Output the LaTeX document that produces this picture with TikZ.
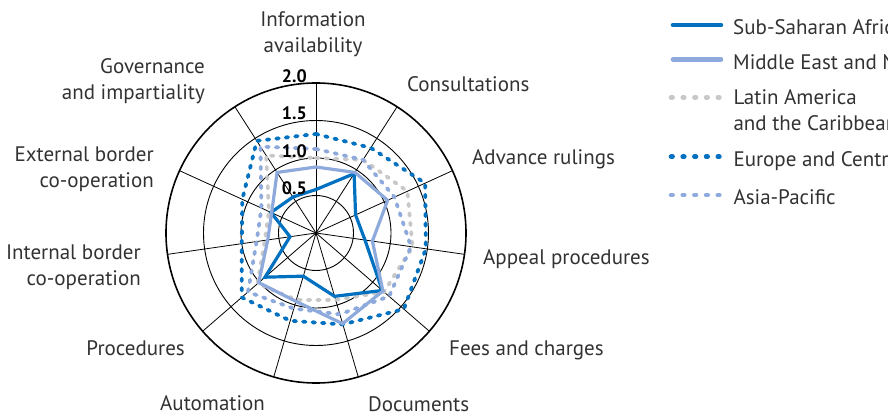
\documentclass[tikz,border=0pt]{standalone}
\usepackage{fontspec}
\setmainfont{PT Sans}
\usepackage{xcolor}
\usepackage{tikz}
\usetikzlibrary{calc}
\usetikzlibrary{positioning}

\definecolor{ssablue}{RGB}{0,112,192}
\definecolor{menablue}{RGB}{142,169,219}
\definecolor{lacgrey}{RGB}{200,200,200}
\definecolor{labelgrey}{RGB}{50,50,50}

\newcommand{\rr}{75}
\newcommand{\radarline}[3]{\draw[#1] (90:#2*\rr) \foreach \v [count=\i] in {#3} { -- ({90-\i*360/11}:\v*\rr) } -- cycle;}

\tikzset{
	ring/.style={black,line width=0.9pt},
	spoke/.style={black,line width=0.8pt},
	solidser/.style={line width=3.2pt,line join=miter},
	dotser/.style={line width=3.8pt,line cap=round,dash pattern=on 2.5pt off 7pt},
	legsolid/.style={line width=4.6pt,line cap=round},
	legdot/.style={line width=4.8pt,line cap=round,dash pattern=on 1.4pt off 10.3pt},
	axislabel/.style={text=labelgrey,inner sep=0pt,font=\fontsize{21}{26}\selectfont},
	ticklabel/.style={inner sep=0pt,anchor=base east,font=\fontsize{18}{20}\selectfont\bfseries},
}

\begin{document}
\begin{tikzpicture}[x=1pt,y=1pt]
	\useasboundingbox (-316,-181) rectangle (572,233);
	\coordinate (o) at (0,0);
	
	% grid
	\foreach \r in {1,2,3}
		\draw[ring] (o) circle[radius=\r*37.5];
	\draw[black,line width=1.6pt] (o) circle[radius=150];
	\foreach \i in {0,...,10}
		\draw[spoke] (o) -- ({90-\i*360/11}:150);
	
	% series
	\radarline{dotser,lacgrey}{1.00}{1.16,1.34,1.30,1.20,0.93,0.93,1.03,0.69,0.69,1.23}
	\radarline{dotser,ssablue}{1.32}{1.35,1.60,1.48,1.55,1.27,1.22,1.31,1.00,1.08,1.46}
	\radarline{dotser,menablue}{1.12}{1.16,1.15,1.28,1.29,1.13,1.05,1.20,0.80,0.80,1.37}
	\radarline{solidser,ssablue}{0.58}{0.94,0.58,0.66,1.17,0.88,0.60,0.90,0.35,0.66,0.57}
	\radarline{solidser,menablue}{0.88}{0.96,1.05,0.76,1.18,1.26,0.95,1.01,0.65,0.65,0.96}
	
	% scale
	\node[ticklabel] (t05) at (-9,38) {0.5};
	\node[ticklabel] (t10) at (-9,75.5) {1.0};
	\node[ticklabel] (t15) at (-9,113) {1.5};
	\node[ticklabel] (t20) at (-9,150.5) {2.0};
	
	% axis names
	\node[axislabel,align=center,anchor=south] (info) at (-3,176) {Information\\availability};
	\node[axislabel,anchor=base west] (consult) at (91,141) {Consultations};
	\node[axislabel,anchor=base west] (advance) at (156,68) {Advance rulings};
	\node[axislabel,anchor=base west] (appeal) at (167,-32) {Appeal procedures};
	\node[axislabel,anchor=base west] (fees) at (133,-123) {Fees and charges};
	\node[axislabel,anchor=base west] (docs) at (52,-178.5) {Documents};
	\node[axislabel,anchor=base west] (auto) at (-156,-177) {Automation};
	\node[axislabel,anchor=base east] (proc) at (-131,-123) {Procedures};
	\node[axislabel,align=right,anchor=north east] (internal) at (-175,-12) {Internal border\\co-operation};
	\node[axislabel,align=right,anchor=north east] (external) at (-162,86) {External border\\co-operation};
	\node[axislabel,align=right,anchor=north east] (govern) at (-111,175) {Governance\\and impartiality};
	
	% legend
	\coordinate (k1a) at (357,208);   \coordinate (k1b) at (405,208);
	\coordinate (k2a) at (357,173.7); \coordinate (k2b) at (405,173.7);
	\coordinate (k3a) at (355.1,135.7); \coordinate (k3b) at (403.6,135.7);
	\coordinate (k4a) at (355.1,76.3); \coordinate (k4b) at (403.6,76.3);
	\coordinate (k5a) at (355.1,38);  \coordinate (k5b) at (403.6,38);
	\draw[legsolid,ssablue] (k1a) -- (k1b);
	\draw[legsolid,menablue] (k2a) -- (k2b);
	\draw[legdot,lacgrey] (k3a) -- (k3b);
	\draw[legdot,ssablue] (k4a) -- (k4b);
	\draw[legdot,menablue] (k5a) -- (k5b);
	\node[axislabel,anchor=base west] (k1) at ($(k1b)+(12,-10)$) {Sub-Saharan Africa};
	\node[axislabel,anchor=base west] (k2) at ($(k2b)+(12,-10.5)$) {Middle East and North Africa};
	\node[axislabel,align=left,anchor=north west] (k3) at ($(k3b)+(13.7,7.5)$) {Latin America\\and the Caribbean};
	\node[axislabel,anchor=base west] (k4) at ($(k4b)+(13.7,-10)$) {Europe and Central Asia};
	\node[axislabel,anchor=base west] (k5) at ($(k5b)+(13.7,-10)$) {Asia-Pacific};
	
\end{tikzpicture}
\end{document}
